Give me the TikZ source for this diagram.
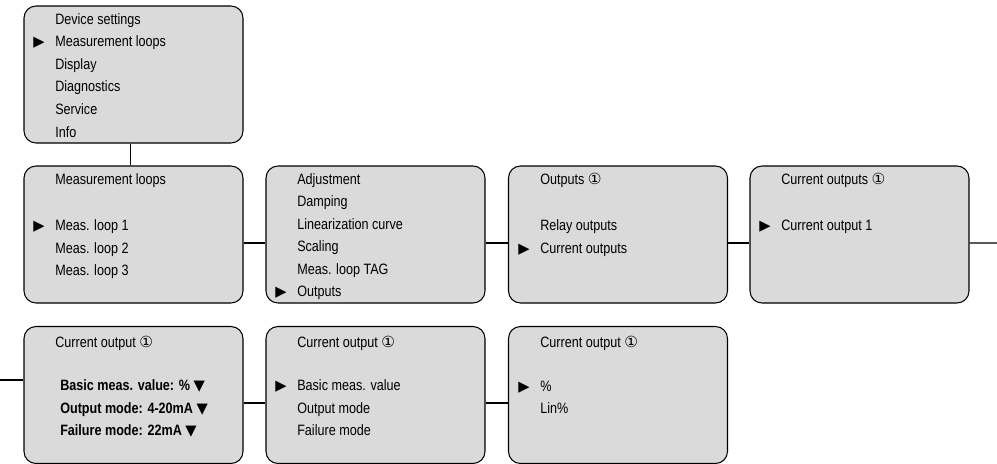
\documentclass[tikz,border=0pt]{standalone}
\usepackage{fontspec}
\setmainfont{Liberation Sans}[FakeStretch=0.84]
\newfontfamily\symfont{DejaVu Sans}
\usepackage{tikz}
\usetikzlibrary{positioning}
\definecolor{menugray}{RGB}{218,218,218}
\newcommand{\circone}{{\symfont\fontsize{11.5}{11}\selectfont ①}}
\newcommand{\selmark}{{\symfont\fontsize{11}{11}\selectfont ▶}}
\newcommand{\dropmark}{{\symfont\fontsize{11}{11}\selectfont ▼}}
\tikzset{
  menu/.style={draw, fill=menugray, rounded corners=9pt, line width=0.8pt,
    minimum width=164.25pt, minimum height=102.75pt, inner sep=0pt},
  item/.style={anchor=base west, inner sep=0pt, font=\fontsize{11.25}{13}\selectfont},
  link/.style={line width=0.9pt}
}

\begin{document}
\begin{tikzpicture}[x=0.75pt,y=-0.75pt]
  \useasboundingbox (0,0) rectangle (997,464);
  % menu windows
  \node[menu] (settings) at (133.5,74.5) {};
  \node[menu] (loops) at (133.5,234.5) {};
  \node[menu] (loopmenu) at (375.5,234.5) {};
  \node[menu] (outputs) at (618,234.5) {};
  \node[menu] (curouts) at (859.5,234.5) {};
  \node[menu] (curout) at (133.5,395) {};
  \node[menu] (curoutsel) at (375.5,395) {};
  \node[menu] (basicval) at (618,395) {};
  % connections
  \draw[link] ([xshift=-2.5pt]settings.south) -- ([xshift=-2.5pt]loops.north);
  \draw[link] ([yshift=-6.4pt]loops.east) -- ([yshift=-6.4pt]loopmenu.west);
  \draw[link] ([yshift=-6.4pt]loopmenu.east) -- ([yshift=-6.4pt]outputs.west);
  \draw[link] ([yshift=-6.4pt]outputs.east) -- ([yshift=-6.4pt]curouts.west);
  \coordinate (wrapR) at (997,243);
  \draw[link] ([yshift=-6.4pt]curouts.east) -- (wrapR);
  \coordinate (wrapL) at (0,380);
  \draw[link] (wrapL) -- ([yshift=11.25pt]curout.west);
  \draw[link] ([yshift=-6pt]curout.east) -- ([yshift=-6pt]curoutsel.west);
  \draw[link] ([yshift=-6pt]curoutsel.east) -- ([yshift=-6pt]basicval.west);
  % device settings
  \foreach \t [count=\i] in {Device settings, Measurement loops, Display, Diagnostics, Service, Info}
    \node[item] (set\i) at (55,1.4+22.6*\i) {\t};
  \node[item] (setsel) at (33,46.6) {\selmark};
  % measurement loops
  \node[item] (loopstitle) at (55,184) {Measurement loops};
  \foreach \t [count=\i] in {Meas. loop 1, Meas. loop 2, Meas. loop 3}
    \node[item] (loop\i) at (55,208+22.5*\i) {\t};
  \node[item] (loopsel) at (33,230.5) {\selmark};
  % meas. loop menu
  \foreach \t [count=\i] in {Adjustment, Damping, Linearization curve, Scaling, Meas. loop TAG, Outputs}
    \node[item] (lm\i) at (297,161.5+22.5*\i) {\t};
  \node[item] (lmsel) at (275,296.5) {\selmark};
  % outputs
  \node[item] (outtitle) at (540,184) {Outputs \circone};
  \node[item] (out1) at (540,230.5) {Relay outputs};
  \node[item] (out2) at (540,253) {Current outputs};
  \node[item] (outsel) at (518,253) {\selmark};
  % current outputs
  \node[item] (cotitle) at (781,184) {Current outputs \circone};
  \node[item] (co1) at (781,230.5) {Current output 1};
  \node[item] (cosel) at (759,230.5) {\selmark};
  % current output, overview
  \node[item] (ovtitle) at (55,347.5) {Current output \circone};
  \foreach \t [count=\i] in {Basic meas. value: \% \dropmark, Output mode: 4-20mA \dropmark, Failure mode: 22mA \dropmark}
    \node[item,font=\fontsize{11.25}{13}\selectfont\bfseries] (ov\i) at (60,368+22.5*\i) {\t};
  % current output, selection
  \node[item] (cstitle) at (297,347.5) {Current output \circone};
  \foreach \t [count=\i] in {Basic meas. value, Output mode, Failure mode}
    \node[item] (cs\i) at (297,368+22.5*\i) {\t};
  \node[item] (cssel) at (275,390.5) {\selmark};
  % basic meas. value
  \node[item] (bvtitle) at (540,347.5) {Current output \circone};
  \node[item] (bv1) at (540,391) {\%};
  \node[item] (bv2) at (540,413.5) {Lin\%};
  \node[item] (bvsel) at (518,391) {\selmark};
\end{tikzpicture}
\end{document}
